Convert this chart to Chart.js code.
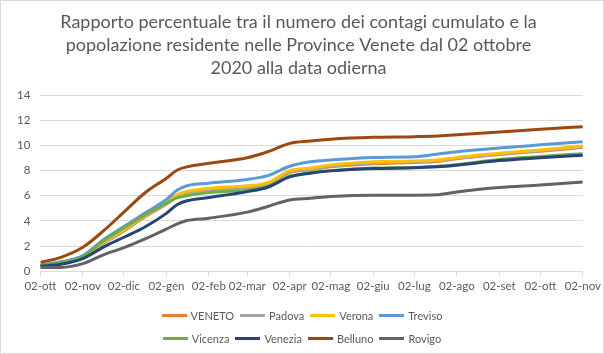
<!DOCTYPE html>
<html>
<head>
<meta charset="utf-8">
<script src="https://cdn.jsdelivr.net/npm/chart.js@4/dist/chart.umd.min.js"></script>
<style>
html,body{margin:0;padding:0;background:#ffffff;}
#wrap{width:604px;height:354px;position:relative;overflow:hidden;}
#c{position:absolute;left:0;top:0;}
#legend{position:absolute;left:0;top:304px;width:604px;font-family:Lato,"Open Sans","DejaVu Sans",sans-serif;font-size:11px;color:#595959;}
#legend .row{height:23px;display:flex;justify-content:center;align-items:center;}
#legend .item{display:flex;align-items:center;margin:0 3px;white-space:nowrap;}
#legend .sw{display:inline-block;width:25px;height:3px;margin-right:4px;}
</style>
</head>
<body>
<div id="wrap"><canvas id="c" width="604" height="354"></canvas><div id="legend"></div></div>
<script>
// ---- data ----
const startDate = '2020-10-02';
const sampleDates = ['2020-10-02','2020-10-17','2020-11-02','2020-11-17','2020-12-02','2020-12-17',
  '2021-01-02','2021-01-10','2021-01-17','2021-02-02','2021-03-02','2021-03-17','2021-04-02',
  '2021-04-17','2021-05-02','2021-06-02','2021-07-02','2021-07-18','2021-08-02','2021-09-02',
  '2021-10-02','2021-11-02'];
const tickDates = ['2020-10-02','2020-11-02','2020-12-02','2021-01-02','2021-02-02','2021-03-02',
  '2021-04-02','2021-05-02','2021-06-02','2021-07-02','2021-08-02','2021-09-02','2021-10-02','2021-11-02'];
const tickLabels = ['02-ott','02-nov','02-dic','02-gen','02-feb','02-mar','02-apr','02-mag',
  '02-giu','02-lug','02-ago','02-set','02-ott','02-nov'];
const seriesNames = ['VENETO','Padova','Verona','Treviso','Vicenza','Venezia','Belluno','Rovigo'];

const veneto  = [0.45,0.68,1.10,2.20,3.20,4.30,5.35,5.95,6.20,6.50,6.70,6.95,7.85,8.05,8.30,8.55,8.65,8.72,8.95,9.28,9.55,9.85];
const padova  = [0.43,0.68,1.10,2.20,3.25,4.35,5.35,5.90,6.10,6.40,6.65,6.95,7.90,8.10,8.35,8.60,8.70,8.78,8.98,9.30,9.58,9.90];
const verona  = [0.45,0.70,1.15,2.30,3.30,4.40,5.45,6.10,6.35,6.60,6.80,7.05,8.00,8.20,8.45,8.70,8.77,8.85,9.05,9.38,9.64,9.96];
const treviso = [0.50,0.75,1.25,2.50,3.55,4.60,5.70,6.45,6.80,7.00,7.30,7.60,8.35,8.70,8.85,9.05,9.10,9.30,9.50,9.80,10.05,10.30];
const vicenza = [0.45,0.70,1.15,2.40,3.45,4.45,5.40,5.85,6.00,6.25,6.45,6.75,7.55,7.83,8.00,8.20,8.25,8.33,8.48,8.88,9.12,9.35];
const venezia = [0.40,0.55,1.00,1.92,2.70,3.50,4.60,5.30,5.60,5.86,6.33,6.68,7.50,7.80,7.98,8.17,8.22,8.30,8.43,8.80,9.02,9.22];
const belluno = [0.70,1.10,1.90,3.20,4.70,6.20,7.40,8.05,8.30,8.58,9.03,9.50,10.17,10.36,10.50,10.65,10.70,10.75,10.86,11.07,11.30,11.50];
const rovigo  = [0.30,0.30,0.60,1.30,1.87,2.55,3.35,3.77,4.03,4.22,4.70,5.15,5.67,5.80,5.94,6.05,6.05,6.08,6.30,6.65,6.85,7.10];

const yTicks = [0,2,4,6,8,10,12,14];

// ---- styling ----
const seriesColors = ['#ED7D31','#A5A5A5','#FFC000','#5B9BD5','#70AD47','#264478','#9E480E','#636363'];
const FONT = 'Lato, "Open Sans", "DejaVu Sans", sans-serif';
const TEXT = '#595959';
const GRID = '#d9d9d9';
const LEGEND_PER_ROW = 4;

const dayOf = (d) => Math.round((Date.parse(d) - Date.parse(startDate)) / 86400000);
const sampleDays = sampleDates.map(dayOf);
const tickDays = tickDates.map(dayOf);
const allSeries = [veneto, padova, verona, treviso, vicenza, venezia, belluno, rovigo];

const datasets = allSeries.map((vals, i) => ({
  label: seriesNames[i],
  data: vals.map((v, j) => ({x: sampleDays[j], y: v})),
  borderColor: seriesColors[i],
  backgroundColor: seriesColors[i],
  borderWidth: 3,
  pointRadius: 0,
  pointHoverRadius: 0,
  fill: false,
  cubicInterpolationMode: 'monotone',
  order: allSeries.length - i
}));

const borderPlugin = {
  id: 'outerBorder',
  beforeDraw(chart) {
    const ctx = chart.ctx;
    ctx.save();
    ctx.fillStyle = '#ffffff';
    ctx.fillRect(0, 0, chart.width, chart.height);
    ctx.restore();
  },
  afterDraw(chart) {
    const ctx = chart.ctx;
    ctx.save();
    ctx.strokeStyle = GRID;
    ctx.lineWidth = 1;
    ctx.strokeRect(0.5, 0.5, chart.width - 1, chart.height - 1);
    ctx.restore();
  }
};

// HTML legend built from the chart's datasets (two rows of four, like the reference)
const htmlLegendPlugin = {
  id: 'htmlLegend',
  afterUpdate(chart) {
    const box = document.getElementById('legend');
    box.innerHTML = '';
    const ds = chart.data.datasets;
    for (let r = 0; r < ds.length; r += LEGEND_PER_ROW) {
      const row = document.createElement('div');
      row.className = 'row';
      ds.slice(r, r + LEGEND_PER_ROW).forEach((d) => {
        const item = document.createElement('span');
        item.className = 'item';
        const sw = document.createElement('span');
        sw.className = 'sw';
        sw.style.background = d.borderColor;
        const tx = document.createElement('span');
        tx.textContent = d.label;
        item.appendChild(sw);
        item.appendChild(tx);
        row.appendChild(item);
      });
      box.appendChild(row);
    }
  }
};

new Chart(document.getElementById('c'), {
  type: 'line',
  data: { datasets },
  plugins: [borderPlugin, htmlLegendPlugin],
  options: {
    responsive: false,
    devicePixelRatio: 1,
    animation: false,
    events: [],
    layout: { padding: { left: 7, right: 14, top: 0, bottom: 58 } },
    plugins: {
      title: {
        display: true,
        text: ['Rapporto percentuale tra il numero dei contagi cumulato e la',
               'popolazione residente nelle Province Venete dal 02 ottobre',
               '2020 alla data odierna'],
        color: TEXT,
        font: { family: FONT, size: 18, weight: 'normal', lineHeight: 1.3 },
        padding: { top: 10, bottom: 15 }
      },
      legend: { display: false },
      tooltip: { enabled: false }
    },
    scales: {
      x: {
        type: 'linear',
        min: tickDays[0],
        max: tickDays[tickDays.length - 1],
        afterBuildTicks: (axis) => { axis.ticks = tickDays.map(v => ({ value: v })); },
        ticks: {
          autoSkip: false,
          maxRotation: 0,
          color: TEXT,
          font: { family: FONT, size: 11.5 },
          padding: 3,
          callback: (v, idx) => tickLabels[idx]
        },
        grid: { drawOnChartArea: false, drawTicks: true, tickLength: 5, color: GRID },
        border: { display: true, color: GRID }
      },
      y: {
        min: 0,
        max: 14,
        afterBuildTicks: (axis) => { axis.ticks = yTicks.map(v => ({ value: v })); },
        ticks: { color: TEXT, font: { family: FONT, size: 11.5 }, padding: 10 },
        grid: { color: GRID, drawTicks: false },
        border: { display: false }
      }
    }
  }
});
</script>
</body>
</html>
